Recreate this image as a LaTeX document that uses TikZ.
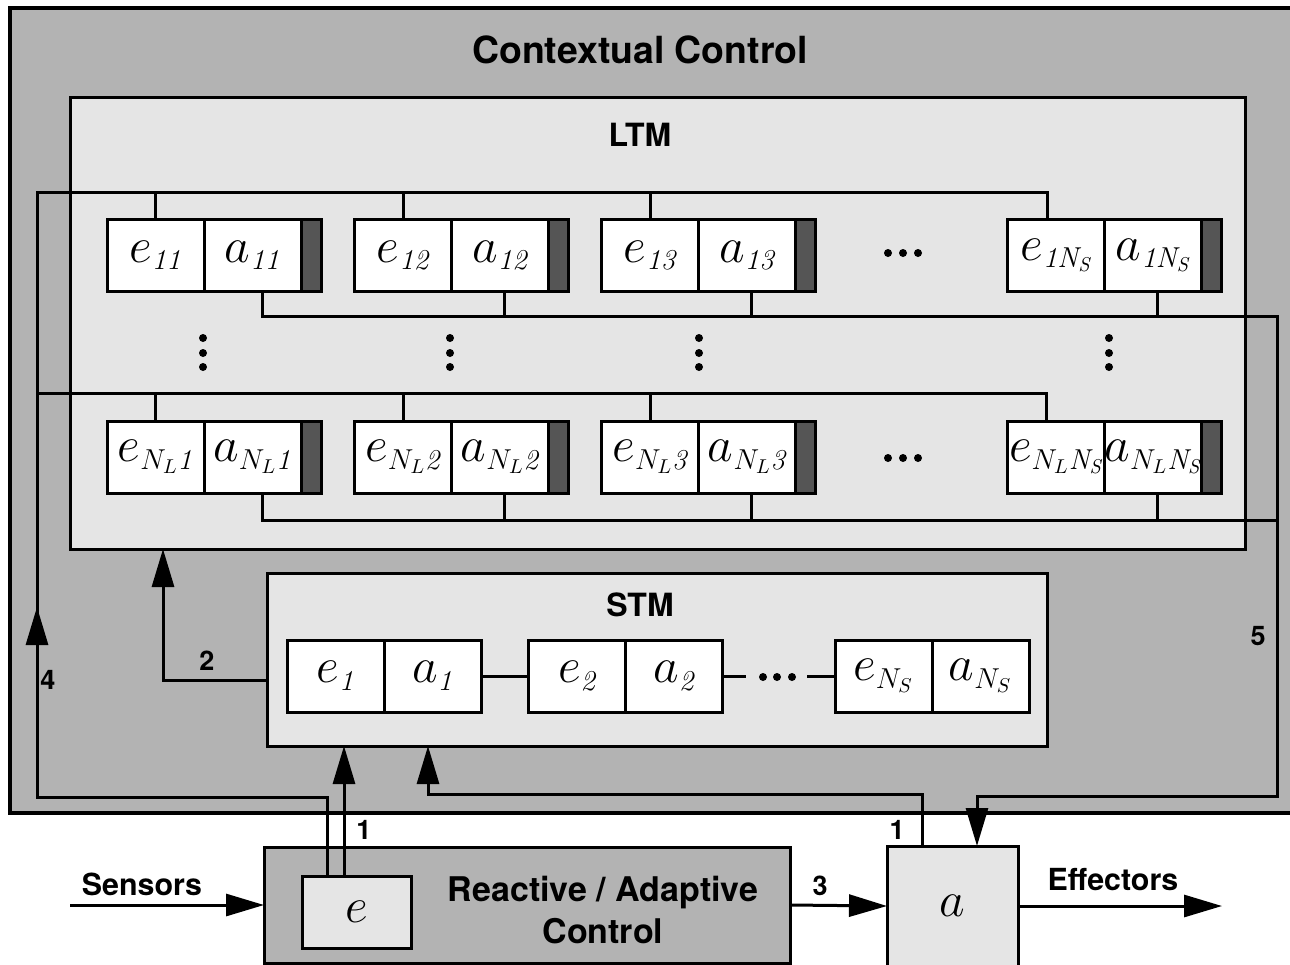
\documentclass[tikz,border=0pt]{standalone}
\usepackage{fontspec}
\newfontfamily\heros{TeX Gyre Heros}
\DeclareMathSizes{24.88}{24.88}{14.4}{10}
\usepackage{tikz}
\usetikzlibrary{arrows.meta, positioning, calc}
\definecolor{ctxgray}{RGB}{179,179,179}
\definecolor{memgray}{RGB}{229,229,229}
\definecolor{bargray}{RGB}{85,85,85}

\begin{document}
\begin{tikzpicture}[
            x=0.5pt, y=-0.5pt,
            box/.style={draw, line width=1.5pt, inner sep=0pt, outer sep=0pt},
            cell/.style={box, fill=white, minimum width=48.5pt, minimum height=36pt, font=\fontsize{24.88}{26}\selectfont},
            bar/.style={box, fill=bargray, minimum width=10pt, minimum height=36pt},
            title/.style={font=\heros\bfseries\fontsize{18.7}{22}\selectfont},
            memtitle/.style={font=\heros\bfseries\fontsize{16}{19}\selectfont},
            lbl/.style={font=\heros\bfseries\fontsize{15.2}{18}\selectfont},
            num/.style={font=\heros\bfseries\fontsize{13.5}{16}\selectfont},
            wire/.style={line width=1.5pt},
            arrow/.style={wire, ->, >={Triangle[length=19pt, width=11pt]}}
        ]
            \clip (0,0) rectangle (1290,964);

            \node[box, fill=ctxgray, line width=2pt, minimum width=645pt, minimum height=402.5pt] (ctx) at (655,410.5) {};
            \node[title] (ctxlabel) at (640,50) {Contextual Control};
            \node[box, fill=memgray, minimum width=587.5pt, minimum height=226pt] (ltm) at (657.5,323) {};
            \node[memtitle] (ltmlabel) at (640,135) {LTM};
            \node[box, fill=memgray, minimum width=390pt, minimum height=86.5pt] (stm) at (657,659.5) {};
            \node[memtitle] (stmlabel) at (640,605) {STM};

            \foreach \c/\x/\lab in {1/155.5/1, 2/403/2, 3/650/3, 4/1056/N_S} {
                \node[cell] (e1\c) at (\x,255.5) {$e_{\mathit{1\lab}}$};
                \node[cell, right=0pt of e1\c] (a1\c) {$a_{\mathit{1\lab}}$};
                \node[bar, right=0pt of a1\c] (b1\c) {};
                \node[cell] (eL\c) at (\x,457) {$e_{N_L\mathit{\lab}}$};
                \node[cell, right=0pt of eL\c] (aL\c) {$a_{N_L\mathit{\lab}}$};
                \node[bar, right=0pt of aL\c] (bL\c) {};
            }

            \foreach \x in {203,450,699,1109}
                \foreach \y in {338,353,367}
                    \fill (\x,\y) circle (4);
            \foreach \y in {253,458}
                \foreach \x in {888,903,918}
                    \fill (\x,\y) circle (4);

            \node[cell] (se1) at (335.5,676) {$e_{\mathit{1}}$};
            \node[cell, right=0pt of se1] (sa1) {$a_{\mathit{1}}$};
            \node[cell] (se2) at (577,676) {$e_{\mathit{2}}$};
            \node[cell, right=0pt of se2] (sa2) {$a_{\mathit{2}}$};
            \node[cell] (seN) at (883.5,676) {$e_{N_S}$};
            \node[cell, right=0pt of seN] (saN) {$a_{N_S}$};
            \coordinate (sd1) at (746,676);
            \coordinate (sd2) at (807,676);
            \draw[wire] (sa1) -- (se2);
            \draw[wire] (sa2) -- (sd1);
            \draw[wire] (sd2) -- (seN);
            \foreach \x in {763,777,792}
                \fill (\x,677) circle (4);

            \node[box, fill=ctxgray, minimum width=263pt, minimum height=58pt] (react) at (527,905) {};
            \node[box, fill=memgray, minimum width=54.5pt, minimum height=36pt, font=\fontsize{24.88}{26}\selectfont] (ebox) at (356.5,912) {$e$};
            \node[lbl, align=center, font=\heros\bfseries\fontsize{17}{21}\selectfont] (reactlabel) at (603,910) {Reactive / Adaptive\\Control};
            \node[box, fill=memgray, minimum width=65.5pt, minimum height=60pt, font=\fontsize{24.88}{26}\selectfont] (abox) at (952.5,906) {$a$};

            \coordinate (t1) at (37,192);
            \coordinate (t2) at (37,393);
            \coordinate (c4) at (37,797);
            \coordinate (m4) at (37,607);
            \coordinate (r1) at (1277,316);
            \coordinate (r2) at (1277,520);
            \coordinate (c5) at (1277,796);
            \coordinate (c1) at (428,794);
            \coordinate (c2) at (163,680);
            \coordinate (sens) at (70,905);
            \coordinate (effc) at (1222,906);
            \coordinate (e4out) at ([xshift=12.5pt]ebox.north west);
            \coordinate (e1out) at ([xshift=21pt]ebox.north west);
            \coordinate (a1out) at ([xshift=-15.25pt]abox.north);
            \coordinate (a5in) at ([xshift=12.25pt]abox.north);
            \coordinate (e14in) at ([xshift=-4.5pt]e14.north);
            \coordinate (eL4in) at ([xshift=-5pt]eL4.north);

            \draw[wire] (e4out) |- (c4) -- (t1) -| (e14in);
            \draw[arrow] (c4) -- (m4);
            \draw[wire] (t2) -| (eL4in);
            \foreach \c in {1,2,3} {
                \draw[wire] (e1\c.north) -- (e1\c.north |- t1);
                \draw[wire] (eL\c.north) -- (eL\c.north |- t2);
            }

            \draw[arrow] ([xshift=5pt]a11.south) |- (r1) -- (c5) -| (a5in);
            \draw[wire] ([xshift=5pt]aL1.south) |- (r2);
            \foreach \c in {2,3,4} {
                \draw[wire] ([xshift=2pt]a1\c.south) -- ([xshift=2pt]a1\c.south |- r1);
                \draw[wire] ([xshift=2pt]aL\c.south) -- ([xshift=2pt]aL\c.south |- r2);
            }

            \draw[arrow] (e1out) -- (e1out |- stm.south);
            \draw[arrow] (a1out) |- (c1) -- (c1 |- stm.south);
            \draw[arrow] ([yshift=-10.25pt]stm.west) -- (c2) -- (c2 |- ltm.south);
            \draw[arrow] (sens) -- (react.west);
            \draw[arrow] (react.east) -- (abox.west);
            \draw[arrow] (abox.east) -- (effc);

            \node[lbl] (sensl) at (142,884) {Sensors};
            \node[lbl] (effl) at (1113,880) {Effectors};
            \node[num] (n1e) at (364,830) {1};
            \node[num] (n1a) at (897,830) {1};
            \node[num] (n2) at (207,661) {2};
            \node[num] (n3) at (820,886) {3};
            \node[num] (n4) at (48,680) {4};
            \node[num] (n5) at (1258,636) {5};
        \end{tikzpicture}
\end{document}
